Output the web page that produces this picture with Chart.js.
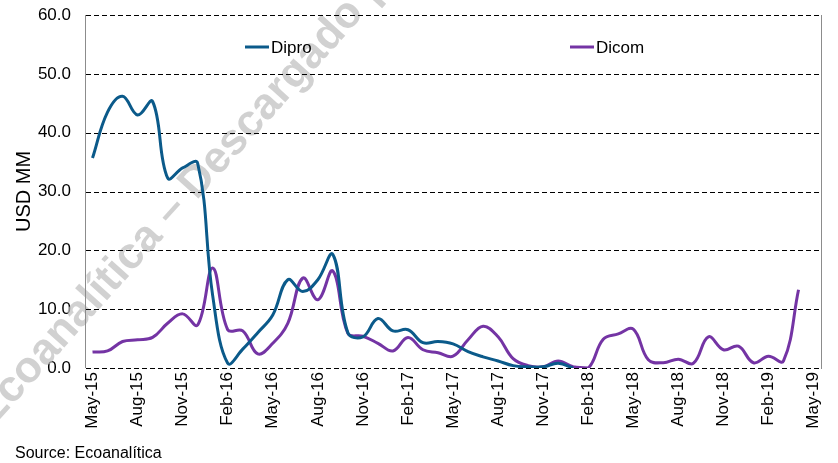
<!DOCTYPE html>
<html>
<head>
<meta charset="utf-8">
<script src="https://cdn.jsdelivr.net/npm/chart.js@4.4.1/dist/chart.umd.min.js"></script>
<style>
  html, body { margin: 0; padding: 0; background: #fff; }
  #wrap { width: 838px; height: 463px; position: relative; }
</style>
</head>
<body>
<div id="wrap"><canvas id="flowChart"></canvas></div>
<script>
const months = ['May-15','Jun-15','Jul-15','Aug-15','Sep-15','Oct-15','Nov-15','Dec-15',
  'Jan-16','Feb-16','Mar-16','Apr-16','May-16','Jun-16','Jul-16','Aug-16','Sep-16','Oct-16','Nov-16','Dec-16',
  'Jan-17','Feb-17','Mar-17','Apr-17','May-17','Jun-17','Jul-17','Aug-17','Sep-17','Oct-17','Nov-17','Dec-17',
  'Jan-18','Feb-18','Mar-18','Apr-18','May-18','Jun-18','Jul-18','Aug-18','Sep-18','Oct-18','Nov-18','Dec-18',
  'Jan-19','Feb-19','Mar-19','Apr-19','May-19'];

const dipro = [35.7, 43.5, 46.2, 43.0, 45.3, 32.3, 34.0, 34.8,
  12.3, 0.8, 3.2, 6.0, 9.0, 15.0, 13.0, 15.0, 19.3, 6.0, 5.3, 8.4,
  6.3, 6.5, 4.3, 4.5, 4.1, 2.8, 1.9, 1.2, 0.4, 0.2, 0.2, 0.8,
  0.0];

const dicom = [2.7, 2.9, 4.5, 4.8, 5.2, 7.6, 9.2, 7.3,
  17.0, 6.5, 6.3, 2.4, 4.2, 7.6, 15.3, 11.6, 16.5, 5.9, 5.4, 4.2,
  2.9, 5.2, 3.1, 2.6, 2.0, 4.8, 7.1, 5.3, 1.6, 0.4, 0.2, 1.2,
  0.2, 0.0, 4.9, 5.8, 6.6, 1.4, 0.9, 1.5, 0.8, 5.3, 3.1, 3.7,
  0.9, 2.0, 1.2, 13.3];

const yTicks = [0, 10, 20, 30, 40, 50, 60];

const FONT = 'Liberation Sans, Arial, sans-serif';

// watermark, dashed gridlines and frame behind the lines; legend and source on top
const decorations = {
  id: 'decorations',
  beforeDatasetsDraw(chart) {
    const c = chart.ctx;
    const area = chart.chartArea;
    const y = chart.scales.y;
    c.save();
    c.translate(-8, 428);
    c.rotate(-48 * Math.PI / 180);
    c.font = 'bold 44px ' + FONT;
    c.fillStyle = 'rgba(190,190,190,0.7)';
    c.textBaseline = 'alphabetic';
    c.fillText('Ecoanalítica – Descargado por us', 0, 0);
    c.restore();

    c.save();
    c.fillStyle = '#000';
    yTicks.forEach(v => {
      const py = Math.round(y.getPixelForValue(v));
      for (let x = area.left + 1; x < area.right; x += 8) {
        c.fillRect(x, py, Math.min(5, area.right - x), 1);
      }
    });
    c.fillStyle = '#8c8c8c';
    c.fillRect(Math.round(area.left), area.top, 1, area.bottom - area.top);
    c.fillRect(Math.round(area.right), area.top, 1, area.bottom - area.top + 1);
    c.restore();
  },
  afterDraw(chart) {
    const c = chart.ctx;
    c.save();
    const items = [[245, 0], [570, 1]];
    c.font = '17px ' + FONT;
    c.textBaseline = 'middle';
    items.forEach(([x, i]) => {
      const ds = chart.data.datasets[i];
      c.strokeStyle = ds.borderColor;
      c.lineWidth = 3;
      c.beginPath();
      c.moveTo(x, 47);
      c.lineTo(x + 24, 47);
      c.stroke();
      c.fillStyle = '#000';
      c.fillText(ds.label, x + 26, 48);
    });

    c.font = '16px ' + FONT;
    c.fillStyle = '#000';
    c.textBaseline = 'alphabetic';
    c.fillText('Source: Ecoanalítica', 15, 458);
    c.restore();
  }
};

new Chart(document.getElementById('flowChart'), {
  type: 'line',
  data: {
    labels: months,
    datasets: [{
      label: 'Dipro',
      data: dipro,
      borderColor: '#0b5a8a',
      borderWidth: 3,
      pointRadius: 0,
      tension: 0.4,
      fill: false
    }, {
      label: 'Dicom',
      data: dicom,
      borderColor: '#7434a4',
      borderWidth: 3,
      pointRadius: 0,
      tension: 0.4,
      fill: false
    }]
  },
  options: {
    responsive: true,
    maintainAspectRatio: false,
    animation: false,
    layout: { padding: { top: 15, right: 5, left: 12, bottom: 0 } },
    plugins: {
      legend: { display: false },
      tooltip: { enabled: false }
    },
    scales: {
      x: {
        type: 'category',
        offset: true,
        afterFit(scale) { scale.height = 95; },
        grid: { display: false, drawTicks: false },
        border: { display: false },
        ticks: {
          autoSkip: false,
          minRotation: 90,
          maxRotation: 90,
          padding: 4,
          color: '#000',
          font: { family: FONT, size: 17 },
          callback(value, index) { return index % 3 === 0 ? months[index] : null; }
        }
      },
      y: {
        min: 0,
        max: 60,
        afterFit(scale) {
          scale.width = 73;
          scale.paddingTop = 0;
          scale.paddingBottom = 0;
        },
        afterBuildTicks(scale) { scale.ticks = yTicks.map(v => ({ value: v })); },
        grid: { display: false, drawTicks: false },
        border: { display: false },
        ticks: {
          padding: 14,
          color: '#000',
          font: { family: FONT, size: 17 },
          callback(v) { return v.toFixed(1); }
        },
        title: {
          display: true,
          text: 'USD MM',
          color: '#000',
          font: { family: FONT, size: 20 },
          padding: { top: 0, bottom: 0 }
        }
      }
    }
  },
  plugins: [decorations]
});
</script>
</body>
</html>
